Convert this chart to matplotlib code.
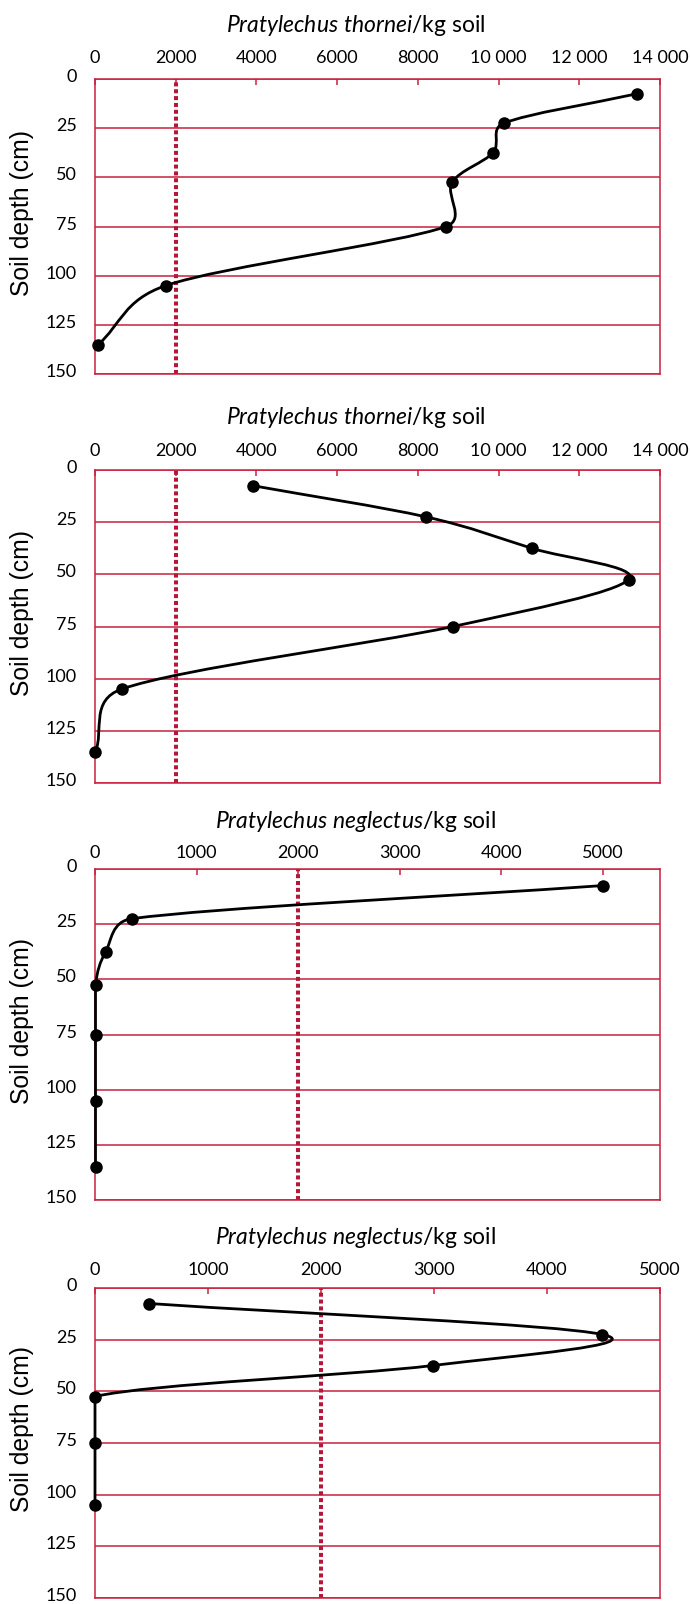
"""Root-lesion nematode counts down the soil profile (four panels)."""
import numpy as np
import matplotlib
matplotlib.use("Agg")
from matplotlib import pyplot as plt
from matplotlib.path import Path
from matplotlib.patches import PathPatch
import matplotlib.transforms as mtransforms

# sampling depths (cm), mid-points of the cores
depth = [7.5, 22.5, 37.5, 52.5, 75, 105, 135]

# nematodes / kg soil
thornei_a = [13430, 10130, 9860, 8850, 8700, 1760, 80]
thornei_b = [3910, 8210, 10820, 13220, 8870, 660, 10]
neglectus_a = [5000, 365, 105, 5, 5, 5, 5]
neglectus_b = [480, 4490, 2990, 0, 0, 0]

threshold = 2000

thornei_ticks = [0, 2000, 4000, 6000, 8000, 10000, 12000, 14000]
neglectus_ticks = [0, 1000, 2000, 3000, 4000, 5000]
depth_ticks = [0, 25, 50, 75, 100, 125, 150]

titles = [r"$\mathit{Pratylechus\ thornei}$/kg soil",
          r"$\mathit{Pratylechus\ thornei}$/kg soil",
          r"$\mathit{Pratylechus\ neglectus}$/kg soil",
          r"$\mathit{Pratylechus\ neglectus}$/kg soil"]

RED = "#c8203f"
DOT_RED = "#b5173a"

plt.rcParams["font.family"] = ["Lato", "DejaVu Sans"]
plt.rcParams["mathtext.fontset"] = "custom"
plt.rcParams["mathtext.it"] = "Lato:italic"
plt.rcParams["mathtext.rm"] = "Lato"

W, H = 690, 1604


def rect(left, right, top, bottom):
    return [left / W, 1 - bottom / H, (right - left) / W, (bottom - top) / H]


def fmt(v):
    return f"{v:,}".replace(",", " ") if v >= 10000 else str(v)


def smooth_path(ax, xs, ys):
    """Excel-style smoothed line: bezier segments built in screen space."""
    pts = ax.transData.transform(np.column_stack([xs, ys]))
    n = len(pts)
    verts = [pts[0]]
    codes = [Path.MOVETO]
    for i in range(n - 1):
        p1, p2 = pts[i], pts[i + 1]
        p0 = pts[i - 1] if i > 0 else p1
        p3 = pts[i + 2] if i + 2 < n else p2
        d12 = np.hypot(*(p2 - p1))
        d02 = np.hypot(*(p2 - p0))
        d13 = np.hypot(*(p3 - p1))
        f = 1 / 6 if i > 0 else 1 / 3
        g = 1 / 6 if i + 2 < n else 1 / 3
        if d02 / 6 >= d12 / 2:
            f = d12 / (2 * d02)
        if d13 / 6 >= d12 / 2:
            g = d12 / (2 * d13)
        if abs(p2[0] - p1[0]) < 1:
            # column of zero counts: keep it a straight drop
            c1, c2 = p1 + (p2 - p1) / 3, p2 - (p2 - p1) / 3
        else:
            c1, c2 = p1 + f * (p2 - p0), p2 - g * (p3 - p1)
        verts += [c1, c2, p2]
        codes += [Path.CURVE4] * 3
    return Path(ax.transData.inverted().transform(np.array(verts)), codes)


fig = plt.figure(figsize=(W / 100, H / 100), dpi=100)

panels = [
    (thornei_a, depth, thornei_ticks, 14000, (79, 374), 25, 9.5),
    (thornei_b, depth, thornei_ticks, 14000, (470, 783), 418, 8),
    (neglectus_a, depth, neglectus_ticks, 5560, (869, 1200), 822, 5.5),
    (neglectus_b, depth[:6], neglectus_ticks, 5000, (1288, 1598), 1237, 7.5),
]

for k, (vals, deps, xt, xmax, (top, bottom), ty, xpad) in enumerate(panels):
    ax = fig.add_axes(rect(95, 660, top, bottom))
    ax.set_xlim(0, xmax)
    ax.set_ylim(150, 0)
    ax.xaxis.tick_top()
    ax.set_xticks(xt)
    ax.set_xticklabels([fmt(v) for v in xt])
    ax.set_yticks(depth_ticks)
    ax.tick_params(axis="x", direction="in", length=4.5, width=1.1,
                   color=RED, pad=xpad, labelsize=13)
    ax.tick_params(axis="y", length=0, pad=13, labelsize=13)
    ax.yaxis.grid(True, color=RED, lw=1.1)
    ax.set_axisbelow(True)
    for s in ax.spines.values():
        s.set_color(RED)
        s.set_linewidth(1.1)
    lift = mtransforms.ScaledTranslation(0, 2.5 / 72, fig.dpi_scale_trans)
    for lab in ax.get_yticklabels():
        lab.set_transform(lab.get_transform() + lift)

    ax.axvline(threshold, color=DOT_RED, lw=2.9, ls=(0, (1, 0.7)),
               dash_capstyle="butt", zorder=2)
    ax.add_patch(PathPatch(smooth_path(ax, vals, deps), fill=False,
                           ec="black", lw=2.0, zorder=3, clip_on=False))
    ax.plot(vals, deps, "o", color="black", ms=8, zorder=4, clip_on=False)

    fig.text(356 / W, 1 - ty / H, titles[k], ha="center", va="center",
             fontsize=16.5)
    fig.text(22 / W, 1 - ((top + bottom) / 2 - 14) / H, "Soil depth (cm)",
             rotation=90, ha="center", va="center", fontsize=17.8,
             family="Liberation Sans")

fig.savefig("out.png", dpi=100)
